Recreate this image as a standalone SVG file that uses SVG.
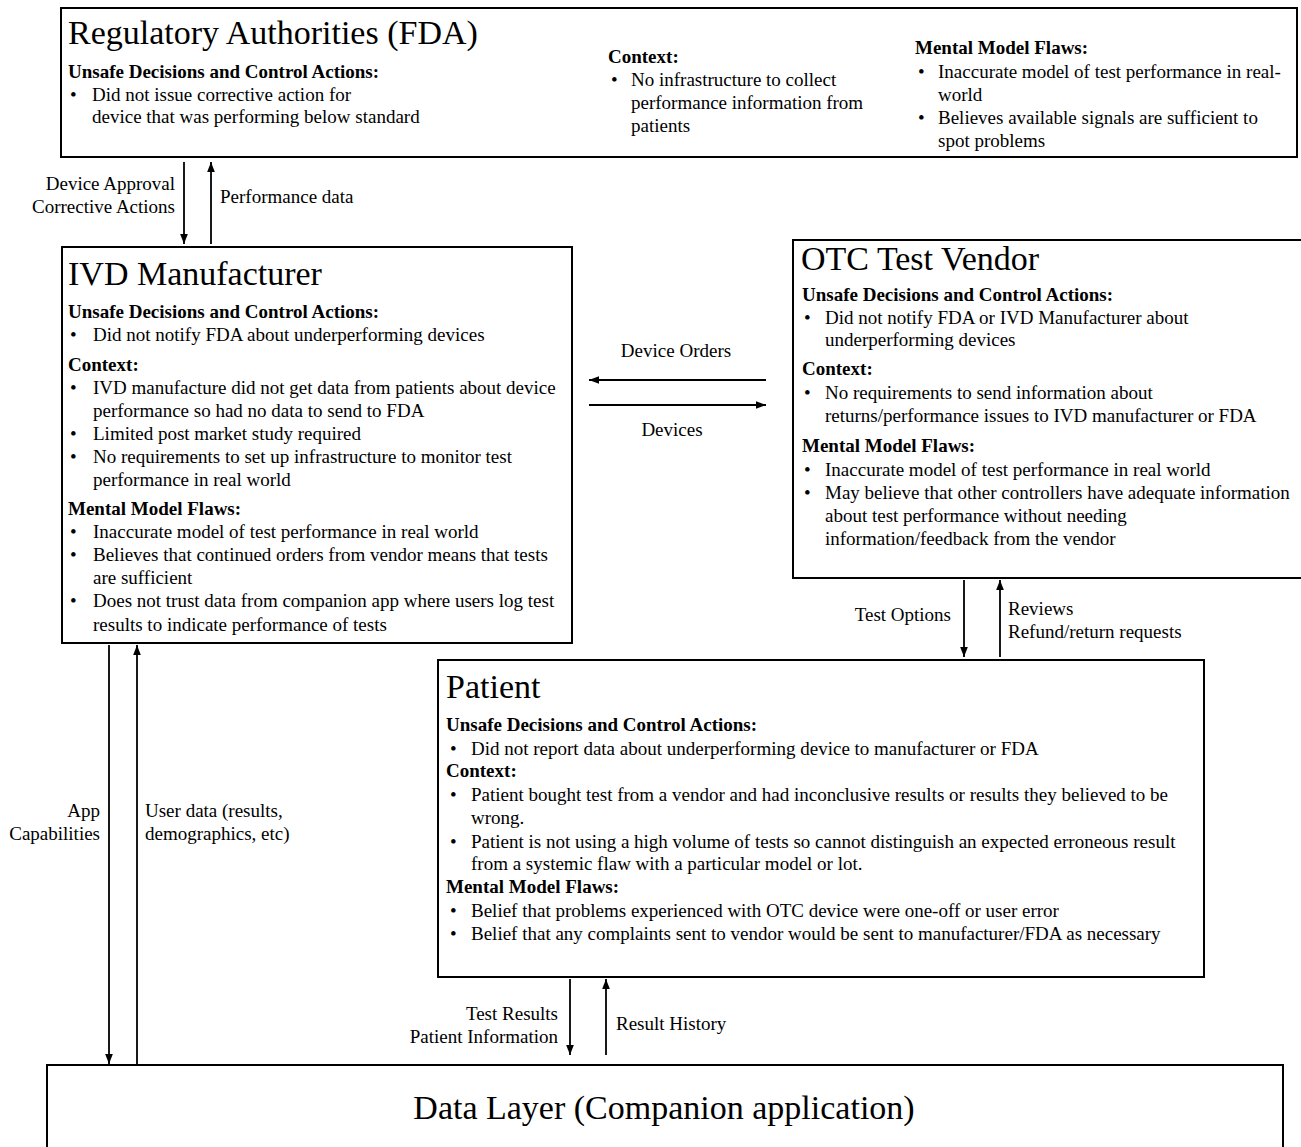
<svg xmlns="http://www.w3.org/2000/svg" width="1301" height="1147" viewBox="0 0 1301 1147">
<defs>
<marker id="ah" viewBox="0 0 10 10" refX="10" refY="5" markerWidth="10" markerHeight="10" markerUnits="userSpaceOnUse" orient="auto">
<path d="M0,1.2 L10,5 L0,8.8 z" fill="#000"/>
</marker>
<style>
text{font-family:"Liberation Serif","Times New Roman",serif;fill:#000}
.t{font-size:34px}
.h{font-size:19px;font-weight:bold}
.b{font-size:19px}
.l{font-size:19px}
.box{fill:#fff;stroke:#000;stroke-width:2}
.c{stroke:#000;stroke-width:1.8;fill:none;marker-end:url(#ah)}
</style>
</defs>
<rect width="1301" height="1147" fill="#fff"/>

<g id="connectors">
<line class="c" x1="184" y1="162" x2="184" y2="244"/>
<line class="c" x1="211" y1="244" x2="211" y2="162"/>
<line class="c" x1="766" y1="380" x2="589" y2="380"/>
<line class="c" x1="589" y1="405" x2="766" y2="405"/>
<line class="c" x1="964" y1="580" x2="964" y2="657"/>
<line class="c" x1="1000" y1="657" x2="1000" y2="580"/>
<line class="c" x1="109" y1="645" x2="109" y2="1064"/>
<line class="c" x1="137" y1="1064" x2="137" y2="645"/>
<line class="c" x1="570" y1="979" x2="570" y2="1055"/>
<line class="c" x1="606" y1="1055" x2="606" y2="979"/>
<text class="l" x="175" y="190" text-anchor="end">Device Approval</text>
<text class="l" x="175" y="213" text-anchor="end">Corrective Actions</text>
<text class="l" x="220" y="203">Performance data</text>
<text class="l" x="676" y="357" text-anchor="middle">Device Orders</text>
<text class="l" x="672" y="436" text-anchor="middle">Devices</text>
<text class="l" x="951" y="621" text-anchor="end">Test Options</text>
<text class="l" x="1008" y="615">Reviews</text>
<text class="l" x="1008" y="638">Refund/return requests</text>
<text class="l" x="100" y="817" text-anchor="end">App</text>
<text class="l" x="100" y="840" text-anchor="end">Capabilities</text>
<text class="l" x="145" y="817">User data (results,</text>
<text class="l" x="145" y="840">demographics, etc)</text>
<text class="l" x="558" y="1020" text-anchor="end">Test Results</text>
<text class="l" x="558" y="1043" text-anchor="end">Patient Information</text>
<text class="l" x="616" y="1030">Result History</text>
</g>

<g id="fda">
<rect class="box" x="61" y="8" width="1236" height="149"/>
<text class="t" x="68" y="44">Regulatory Authorities (FDA)</text>
<text class="h" x="68" y="78">Unsafe Decisions and Control Actions:</text>
<text class="b" x="70" y="101">•</text>
<text class="b" x="92" y="101">Did not issue corrective action for</text>
<text class="b" x="92" y="123">device that was performing below standard</text>
<text class="h" x="608" y="63">Context:</text>
<text class="b" x="611" y="86">•</text>
<text class="b" x="631" y="86">No infrastructure to collect</text>
<text class="b" x="631" y="109">performance information from</text>
<text class="b" x="631" y="132">patients</text>
<text class="h" x="915" y="54">Mental Model Flaws:</text>
<text class="b" x="918" y="78">•</text>
<text class="b" x="938" y="78">Inaccurate model of test performance in real-</text>
<text class="b" x="938" y="101">world</text>
<text class="b" x="918" y="124">•</text>
<text class="b" x="938" y="124">Believes available signals are sufficient to</text>
<text class="b" x="938" y="147">spot problems</text>
</g>

<g id="ivd">
<rect class="box" x="62" y="247" width="510" height="396"/>
<text class="t" x="68" y="285">IVD Manufacturer</text>
<text class="h" x="68" y="318">Unsafe Decisions and Control Actions:</text>
<text class="b" x="70" y="341">•</text>
<text class="b" x="93" y="341">Did not notify FDA about underperforming devices</text>
<text class="h" x="68" y="371">Context:</text>
<text class="b" x="70" y="394">•</text>
<text class="b" x="93" y="394">IVD manufacture did not get data from patients about device</text>
<text class="b" x="93" y="417">performance so had no data to send to FDA</text>
<text class="b" x="70" y="440">•</text>
<text class="b" x="93" y="440">Limited post market study required</text>
<text class="b" x="70" y="463">•</text>
<text class="b" x="93" y="463">No requirements to set up infrastructure to monitor test</text>
<text class="b" x="93" y="486">performance in real world</text>
<text class="h" x="68" y="515">Mental Model Flaws:</text>
<text class="b" x="70" y="538">•</text>
<text class="b" x="93" y="538">Inaccurate model of test performance in real world</text>
<text class="b" x="70" y="561">•</text>
<text class="b" x="93" y="561">Believes that continued orders from vendor means that tests</text>
<text class="b" x="93" y="584">are sufficient</text>
<text class="b" x="70" y="607">•</text>
<text class="b" x="93" y="607">Does not trust data from companion app where users log test</text>
<text class="b" x="93" y="631">results to indicate performance of tests</text>
</g>

<g id="otc">
<rect class="box" x="793" y="240" width="510" height="338"/>
<text class="t" x="801" y="270">OTC Test Vendor</text>
<text class="h" x="802" y="301">Unsafe Decisions and Control Actions:</text>
<text class="b" x="804" y="324">•</text>
<text class="b" x="825" y="324">Did not notify FDA or IVD Manufacturer about</text>
<text class="b" x="825" y="346">underperforming devices</text>
<text class="h" x="802" y="375">Context:</text>
<text class="b" x="804" y="399">•</text>
<text class="b" x="825" y="399">No requirements to send information about</text>
<text class="b" x="825" y="422">returns/performance issues to IVD manufacturer or FDA</text>
<text class="h" x="802" y="452">Mental Model Flaws:</text>
<text class="b" x="804" y="476">•</text>
<text class="b" x="825" y="476">Inaccurate model of test performance in real world</text>
<text class="b" x="804" y="499">•</text>
<text class="b" x="825" y="499">May believe that other controllers have adequate information</text>
<text class="b" x="825" y="522">about test performance without needing</text>
<text class="b" x="825" y="545">information/feedback from the vendor</text>
</g>

<g id="patient">
<rect class="box" x="438" y="660" width="766" height="317"/>
<text class="t" x="446" y="698">Patient</text>
<text class="h" x="446" y="731">Unsafe Decisions and Control Actions:</text>
<text class="b" x="450" y="755">•</text>
<text class="b" x="471" y="755">Did not report data about underperforming device to manufacturer or FDA</text>
<text class="h" x="446" y="777">Context:</text>
<text class="b" x="450" y="801">•</text>
<text class="b" x="471" y="801">Patient bought test from a vendor and had inconclusive results or results they believed to be</text>
<text class="b" x="471" y="824">wrong.</text>
<text class="b" x="450" y="848">•</text>
<text class="b" x="471" y="848">Patient is not using a high volume of tests so cannot distinguish an expected erroneous result</text>
<text class="b" x="471" y="870">from a systemic flaw with a particular model or lot.</text>
<text class="h" x="446" y="893">Mental Model Flaws:</text>
<text class="b" x="450" y="917">•</text>
<text class="b" x="471" y="917">Belief that problems experienced with OTC device were one-off or user error</text>
<text class="b" x="450" y="940">•</text>
<text class="b" x="471" y="940">Belief that any complaints sent to vendor would be sent to manufacturer/FDA as necessary</text>
</g>

<g id="datalayer">
<rect class="box" x="47" y="1065" width="1236" height="100"/>
<text class="t" x="664" y="1119" text-anchor="middle">Data Layer (Companion application)</text>
</g>
</svg>
